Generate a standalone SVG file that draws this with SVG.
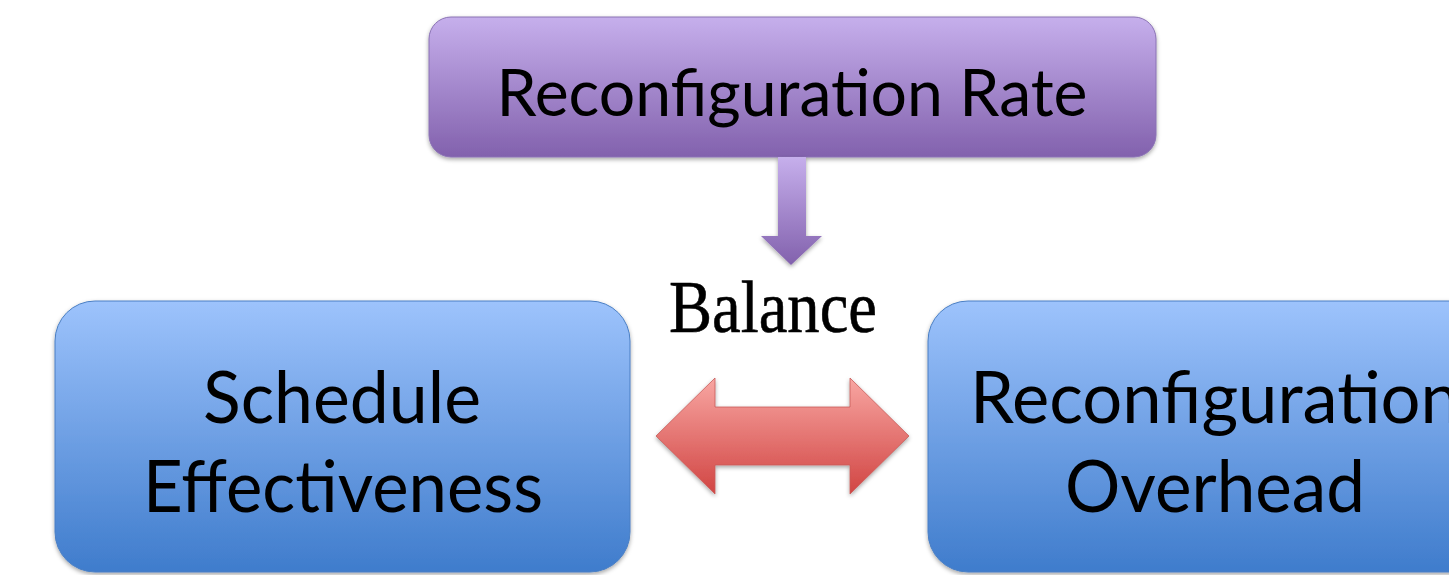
<svg xmlns="http://www.w3.org/2000/svg" width="1449" height="575" viewBox="0 0 1449 575">
  <defs>
    <linearGradient id="gPurple" x1="0" y1="0" x2="0" y2="1">
      <stop offset="0" stop-color="#c6afec"/>
      <stop offset="1" stop-color="#8261ad"/>
    </linearGradient>
    <linearGradient id="gBlue" x1="0" y1="0" x2="0" y2="1">
      <stop offset="0" stop-color="#9dc3fc"/>
      <stop offset="1" stop-color="#3f7ccc"/>
    </linearGradient>
    <linearGradient id="gRed" x1="0" y1="0" x2="0" y2="1">
      <stop offset="0" stop-color="#f8a6a2"/>
      <stop offset="1" stop-color="#d14543"/>
    </linearGradient>
    <filter id="shadow" x="-5%" y="-5%" width="110%" height="115%">
      <feDropShadow dx="0" dy="2" stdDeviation="2" flood-color="#000" flood-opacity="0.35"/>
    </filter>
  </defs>
  <style>
    .label { font-family: "Lato", "Open Sans", "Liberation Sans", sans-serif; fill: #000; text-anchor: middle; }
    .top { font-size: 65px; }
    .big { font-size: 71px; }
    .balance { font-family: "Liberation Serif", "DejaVu Serif", serif; font-size: 75px; fill: #000; text-anchor: middle; stroke: #000; stroke-width: 0.6; }
  </style>
  <rect width="1449" height="575" fill="#ffffff"/>

  <g id="rate">
    <rect x="429" y="17" width="727" height="140" rx="22" fill="url(#gPurple)" stroke="#8a72b4" stroke-width="1" filter="url(#shadow)"/>
    <text class="label top" x="792" y="116" textLength="591" lengthAdjust="spacingAndGlyphs">Reconfiguration Rate</text>
  </g>

  <g id="effectiveness">
    <rect x="55" y="301" width="575" height="271" rx="40" fill="url(#gBlue)" stroke="#4a7fc4" stroke-width="1" filter="url(#shadow)"/>
    <text class="label big" x="342" y="423" textLength="278" lengthAdjust="spacingAndGlyphs">Schedule</text>
    <text class="label big" x="343" y="512" textLength="400" lengthAdjust="spacingAndGlyphs">Effectiveness</text>
  </g>

  <g id="overhead">
    <rect x="928" y="301" width="575" height="271" rx="40" fill="url(#gBlue)" stroke="#4a7fc4" stroke-width="1" filter="url(#shadow)"/>
    <text class="label big" x="1215" y="423" textLength="490" lengthAdjust="spacingAndGlyphs">Reconfiguration</text>
    <text class="label big" x="1215" y="512" textLength="300" lengthAdjust="spacingAndGlyphs">Overhead</text>
  </g>

  <g id="connectors">
    <!-- block arrow from the rate box down to the balance label -->
    <path d="M778 157 H806 V236 H822 L791 265 L761 236 H778 Z" fill="url(#gPurple)" filter="url(#shadow)"/>
    <!-- two-way block arrow between the two lower boxes -->
    <path d="M656 436 L715 378 V407 H850 V378 L909 436 L850 494 V465 H715 V494 Z" fill="url(#gRed)" stroke="#c85a58" stroke-width="0.8" filter="url(#shadow)"/>
    <text class="balance" x="773" y="332" textLength="208" lengthAdjust="spacingAndGlyphs">Balance</text>
  </g>
</svg>
